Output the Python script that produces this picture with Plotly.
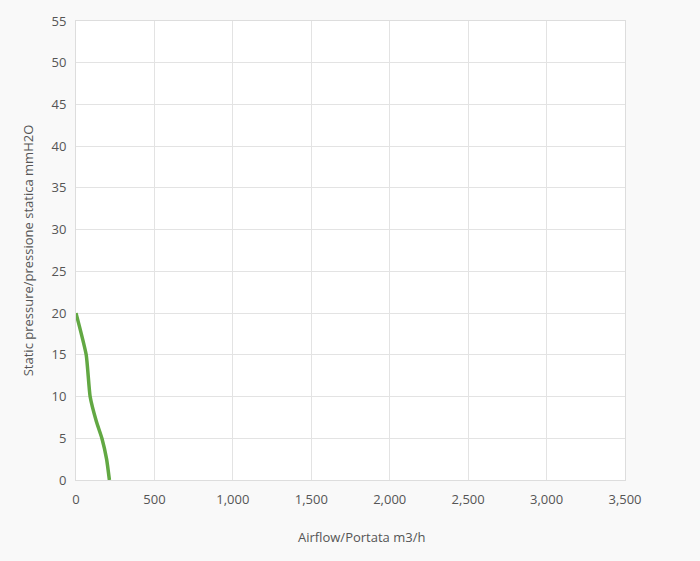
import plotly.graph_objects as go

airflow = [0, 65, 90, 130, 165, 195, 213]
pressure = [20, 15, 10, 7, 5, 2.5, 0]

x_ticks = [0, 500, 1000, 1500, 2000, 2500, 3000, 3500]
y_ticks = [0, 5, 10, 15, 20, 25, 30, 35, 40, 45, 50, 55]

fig = go.Figure()
fig.add_trace(go.Scatter(
    x=airflow, y=pressure, mode="lines",
    line=dict(color="#62a843", width=3.5, shape="spline", smoothing=0.5),
    showlegend=False,
))

font = dict(family="Open Sans, Roboto, sans-serif", size=13, color="#555555")
fig.update_layout(
    width=700, height=561,
    margin=dict(l=76, r=75, t=17, b=81),
    paper_bgcolor="#f9f9f9",
    plot_bgcolor="#ffffff",
    font=font,
    xaxis=dict(
        range=[0, 3500], tickvals=x_ticks, tickformat=",",
        showgrid=True, gridcolor="#e3e3e3", gridwidth=1,
        showline=True, linecolor="#dddddd", mirror=True,
        zeroline=False, ticks="", ticklabelstandoff=7,
    ),
    yaxis=dict(
        range=[0, 55], tickvals=y_ticks,
        showgrid=True, gridcolor="#e3e3e3", gridwidth=1,
        showline=True, linecolor="#dddddd", mirror=True,
        zeroline=False, ticks="", ticklabelstandoff=6,
        title=dict(text="Static pressure/pressione statica mmH2O", standoff=14, font=dict(size=13, color="#555555")),
    ),
    annotations=[dict(
        text="Airflow/Portata m3/h", xref="paper", yref="paper",
        x=(361 - 76) / 549, y=-(537 - 480) / 463,
        xanchor="center", yanchor="middle", showarrow=False,
        font=dict(size=13, color="#555555"),
    )],
)

fig.write_html("out.html", config={"displayModeBar": False},
               post_script="document.body.style.margin='0';document.body.style.padding='0';")
